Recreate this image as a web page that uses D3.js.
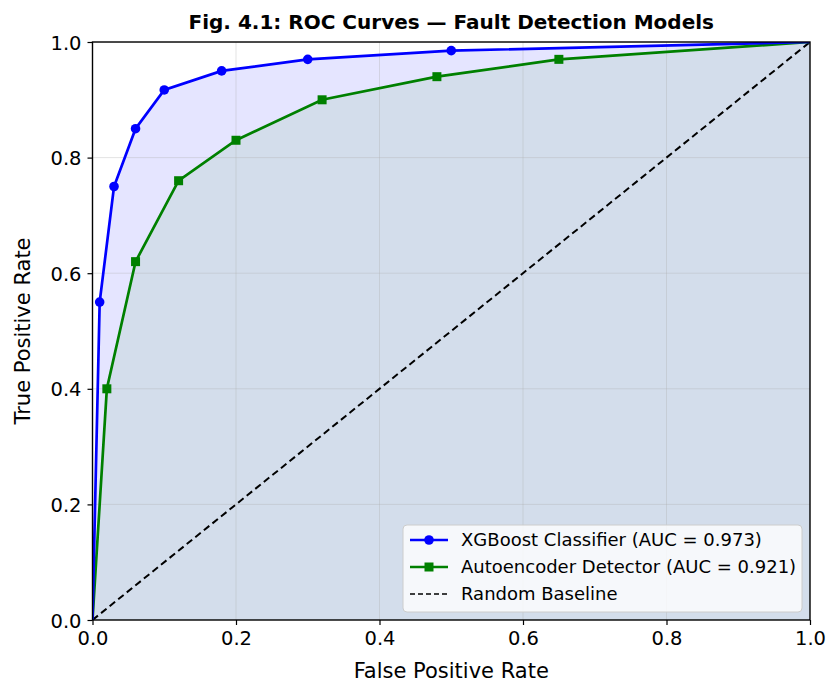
<!DOCTYPE html>
<html>
<head>
<meta charset="utf-8">
<script src="https://cdn.jsdelivr.net/npm/d3@7"></script>
<style>
  body { margin: 0; background: #fff; }
  svg text { font-family: "DejaVu Sans", sans-serif; fill: #000; }
</style>
</head>
<body>
<div id="vis"></div>
<script>
// ROC points
var xgbFpr = [0, 0.01, 0.03, 0.06, 0.10, 0.18, 0.30, 0.50, 1.0];
var xgbTpr = [0, 0.55, 0.75, 0.85, 0.917, 0.95, 0.97, 0.985, 1.0];
var aeFpr = [0, 0.02, 0.06, 0.12, 0.20, 0.32, 0.48, 0.65, 1.0];
var aeTpr = [0, 0.40, 0.62, 0.76, 0.83, 0.90, 0.94, 0.97, 1.0];
var baseline = [0, 1];
var ticks = [0, 0.2, 0.4, 0.6, 0.8, 1.0];
var seriesNames = ['XGBoost Classifier (AUC = 0.973)', 'Autoencoder Detector (AUC = 0.921)', 'Random Baseline'];

var width = 827, height = 684;
var margin = { left: 92.5, right: 17, top: 42, bottom: 64 };

var svg = d3.select('#vis').append('svg')
  .attr('width', width)
  .attr('height', height);

var x = d3.scaleLinear().domain([0, 1]).range([margin.left, width - margin.right]);
var y = d3.scaleLinear().domain([0, 1]).range([height - margin.bottom, margin.top]);

// clip to the axes box
svg.append('clipPath').attr('id', 'plotClip')
  .append('rect')
  .attr('x', x(0)).attr('y', y(1))
  .attr('width', x(1) - x(0)).attr('height', y(0) - y(1));

var plot = svg.append('g').attr('clip-path', 'url(#plotClip)');

function pairs(xs, ys) {
  return xs.map(function (d, i) { return [d, ys[i]]; });
}

var xgb = pairs(xgbFpr, xgbTpr);
var ae = pairs(aeFpr, aeTpr);

var area = d3.area()
  .x(function (d) { return x(d[0]); })
  .y0(y(0))
  .y1(function (d) { return y(d[1]); });

var line = d3.line()
  .x(function (d) { return x(d[0]); })
  .y(function (d) { return y(d[1]); });

// shaded areas under the curves
plot.append('path').attr('d', area(xgb)).attr('fill', 'blue').attr('fill-opacity', 0.1);
plot.append('path').attr('d', area(ae)).attr('fill', 'green').attr('fill-opacity', 0.08);

// grid
var grid = plot.append('g');
ticks.forEach(function (t) {
  grid.append('line')
    .attr('x1', x(t)).attr('x2', x(t)).attr('y1', y(0)).attr('y2', y(1))
    .attr('stroke', '#b0b0b0').attr('stroke-opacity', 0.35).attr('stroke-width', 1);
  grid.append('line')
    .attr('x1', x(0)).attr('x2', x(1)).attr('y1', y(t)).attr('y2', y(t))
    .attr('stroke', '#b0b0b0').attr('stroke-opacity', 0.35).attr('stroke-width', 1);
});

// random baseline
plot.append('path')
  .attr('d', line(pairs(baseline, baseline)))
  .attr('fill', 'none').attr('stroke', '#000')
  .attr('stroke-width', 2).attr('stroke-dasharray', '7,4');

// curves
plot.append('path').attr('d', line(ae))
  .attr('fill', 'none').attr('stroke', 'green').attr('stroke-width', 2.7);
plot.append('path').attr('d', line(xgb))
  .attr('fill', 'none').attr('stroke', 'blue').attr('stroke-width', 2.7);

// markers on inner points only
plot.selectAll('.aeMark')
  .data(ae.slice(1, -1))
  .enter().append('rect')
  .attr('x', function (d) { return x(d[0]) - 4.5; })
  .attr('y', function (d) { return y(d[1]) - 4.5; })
  .attr('width', 9).attr('height', 9)
  .attr('fill', 'green');

plot.selectAll('.xgbMark')
  .data(xgb.slice(1, -1))
  .enter().append('circle')
  .attr('cx', function (d) { return x(d[0]); })
  .attr('cy', function (d) { return y(d[1]); })
  .attr('r', 4.8)
  .attr('fill', 'blue');

// axes
var fmt = d3.format('.1f');
var xAxis = svg.append('g')
  .attr('transform', 'translate(0,' + y(0) + ')')
  .call(d3.axisBottom(x).tickValues(ticks).tickFormat(fmt).tickSize(5).tickPadding(6));
var yAxis = svg.append('g')
  .attr('transform', 'translate(' + x(0) + ',0)')
  .call(d3.axisLeft(y).tickValues(ticks).tickFormat(fmt).tickSize(5).tickPadding(6));

[xAxis, yAxis].forEach(function (a) {
  a.select('.domain').remove();
  a.selectAll('.tick line').attr('stroke', '#000').attr('stroke-width', 1.2);
  a.selectAll('.tick text').attr('font-size', 19.5).attr('font-family', '"DejaVu Sans", sans-serif');
});
yAxis.selectAll('.tick text').attr('dy', '0.36em');

// frame
svg.append('rect')
  .attr('x', x(0)).attr('y', y(1))
  .attr('width', x(1) - x(0)).attr('height', y(0) - y(1))
  .attr('fill', 'none').attr('stroke', '#000').attr('stroke-width', 1.4);

// labels
svg.append('text')
  .attr('x', (x(0) + x(1)) / 2).attr('y', 678)
  .attr('text-anchor', 'middle').attr('font-size', 21)
  .text('False Positive Rate');

svg.append('text')
  .attr('transform', 'translate(30,' + ((y(0) + y(1)) / 2) + ') rotate(-90)')
  .attr('text-anchor', 'middle').attr('font-size', 21)
  .text('True Positive Rate');

svg.append('text')
  .attr('x', (x(0) + x(1)) / 2).attr('y', 29)
  .attr('text-anchor', 'middle').attr('font-size', 20).attr('font-weight', 'bold')
  .text('Fig. 4.1: ROC Curves \u2014 Fault Detection Models');

// legend
var legend = svg.append('g').attr('transform', 'translate(403,525)');
legend.append('rect')
  .attr('width', 399).attr('height', 87).attr('rx', 4)
  .attr('fill', '#fff').attr('fill-opacity', 0.8)
  .attr('stroke', '#cccccc').attr('stroke-width', 1);

var legendStyles = [
  { color: 'blue', dash: null, marker: 'circle' },
  { color: 'green', dash: null, marker: 'square' },
  { color: '#000', dash: '5,3', marker: null }
];

seriesNames.forEach(function (name, i) {
  var row = legend.append('g').attr('transform', 'translate(0,' + (15 + i * 27) + ')');
  var s = legendStyles[i];
  row.append('line')
    .attr('x1', 7).attr('x2', 45).attr('y1', 0).attr('y2', 0)
    .attr('stroke', s.color).attr('stroke-width', s.dash ? 1.6 : 2.7)
    .attr('stroke-dasharray', s.dash);
  if (s.marker === 'circle') {
    row.append('circle').attr('cx', 26).attr('cy', 0).attr('r', 4.8).attr('fill', s.color);
  } else if (s.marker === 'square') {
    row.append('rect').attr('x', 21.5).attr('y', -4.5).attr('width', 9).attr('height', 9).attr('fill', s.color);
  }
  row.append('text')
    .attr('x', 58).attr('y', 0).attr('dy', '0.36em')
    .attr('font-size', 18)
    .text(name);
});
</script>
</body>
</html>
